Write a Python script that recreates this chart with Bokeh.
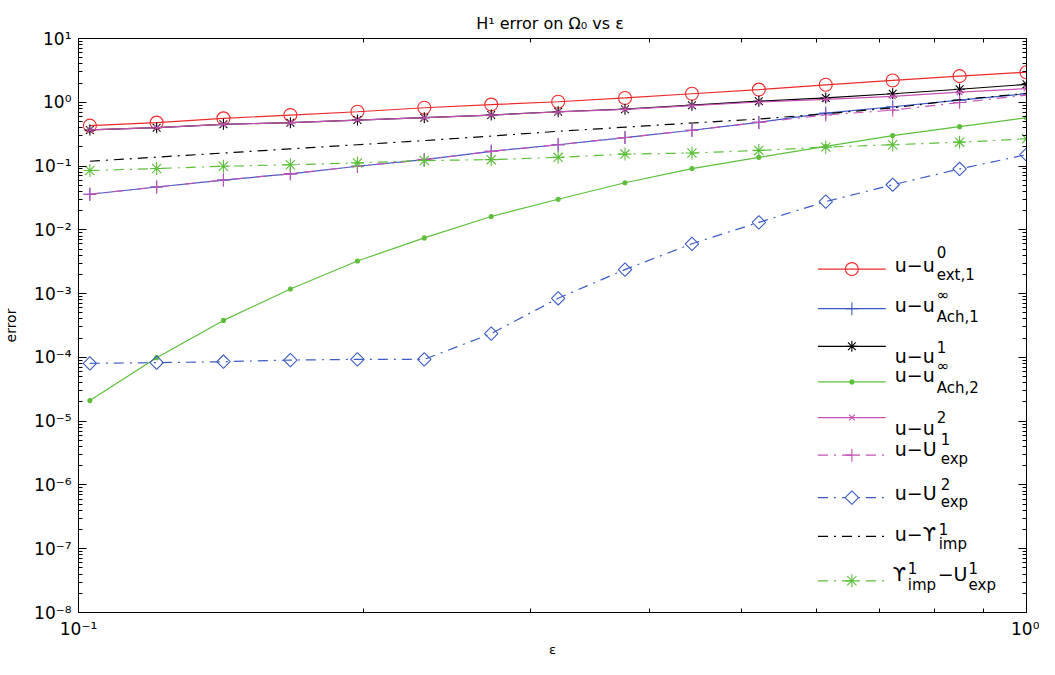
import numpy as np
from bokeh.plotting import figure
from bokeh.models import FixedTicker, LogAxis, Label, CustomJSTickFormatter, Range1d
from bokeh.embed import file_html
from bokeh.resources import INLINE

# ---------------- data ----------------
eps = [0.1028, 0.1209, 0.1422, 0.1673, 0.1969, 0.2316, 0.2725, 0.3206,
       0.3771, 0.4437, 0.5220, 0.6141, 0.7225, 0.8500, 1.0000]

err_u_ext1 = [0.43, 0.48, 0.56, 0.63, 0.71, 0.82, 0.92, 1.02, 1.17, 1.36, 1.58, 1.88, 2.20, 2.57, 2.96]
err_u_ach1 = [0.0361, 0.0469, 0.0603, 0.0755, 0.0993, 0.126, 0.170, 0.216, 0.280, 0.364, 0.484, 0.676, 0.851, 1.08, 1.36]
err_u_1 = [0.368, 0.400, 0.451, 0.479, 0.526, 0.573, 0.631, 0.710, 0.780, 0.900, 1.04, 1.17, 1.36, 1.60, 1.91]
err_u_ach2 = [2.10e-5, 9.9e-5, 3.80e-4, 1.18e-3, 3.24e-3, 7.48e-3, 1.62e-2, 3.02e-2, 5.47e-2, 9.14e-2, 0.137, 0.203, 0.301, 0.415, 0.573]
err_u_2 = [0.368, 0.400, 0.451, 0.479, 0.526, 0.573, 0.631, 0.705, 0.775, 0.885, 1.01, 1.11, 1.24, 1.44, 1.64]
err_U_exp1 = [0.0361, 0.0469, 0.0603, 0.0755, 0.0993, 0.126, 0.170, 0.216, 0.280, 0.364, 0.484, 0.631, 0.753, 0.991, 1.29]
err_U_exp2 = [8.07e-5, 8.26e-5, 8.55e-5, 9.08e-5, 9.31e-5, 9.31e-5, 2.36e-4, 8.45e-4, 2.38e-3, 6.04e-3, 1.31e-2, 2.77e-2, 5.09e-2, 9.0e-2, 0.151]
err_Y_imp1 = [0.119, 0.138, 0.160, 0.186, 0.216, 0.251, 0.295, 0.351, 0.407, 0.473, 0.546, 0.661, 0.818, 1.096, 1.38]
err_Y_U_exp = [0.0851, 0.0914, 0.0993, 0.105, 0.112, 0.122, 0.126, 0.137, 0.154, 0.160, 0.176, 0.198, 0.216, 0.237, 0.267]

x_major = [0.1, 1.0]
x_minor = [0.2, 0.3, 0.4, 0.5, 0.6, 0.7, 0.8, 0.9]
y_exponents = list(range(-8, 2))

title_text = "H¹ error on  Ω₀ vs ε"
x_label = "ε"
y_label = "error"

RED, BLUE, BLACK, GREEN, PINK = "#ee2a2a", "#3a5bc4", "#000000", "#5cbf3a", "#c452b4"
DASHDOT = "10 6 2 6"
FONT = "DejaVu Sans"

# (values, color, dash, marker, size, filled)
series = [
    (err_u_ext1, RED, "solid", "circle", 13, False),
    (err_u_ach1, BLUE, "solid", "cross", 13, False),
    (err_u_1, BLACK, "solid", "asterisk", 11, False),
    (err_u_ach2, GREEN, "solid", "circle", 4, True),
    (err_u_2, PINK, "solid", "x", 8, False),
    (err_U_exp1, PINK, DASHDOT, "cross", 13, False),
    (err_U_exp2, BLUE, DASHDOT, "diamond_sq", 9.5, False),
    (err_Y_imp1, BLACK, DASHDOT, None, 0, False),
    (err_Y_U_exp, GREEN, DASHDOT, "asterisk", 13, False),
]

# ---------------- figure ----------------
p = figure(width=1039, height=659, x_axis_type="log", y_axis_type="log",
           x_range=Range1d(0.1, 1.0), y_range=Range1d(1e-8, 10.0),
           output_backend="svg", toolbar_location=None,
           min_border_left=76, min_border_right=13, min_border_top=38, min_border_bottom=41,
           title=title_text)
p.xgrid.visible = False
p.ygrid.visible = False
p.outline_line_color = "black"
p.outline_line_width = 1
p.background_fill_color = "white"
p.border_fill_color = "white"

p.title.align = "center"
p.title.text_font = FONT
p.title.text_font_size = "16px"
p.title.text_font_style = "normal"
p.title.text_color = "black"
p.title.standoff = 12

fmt = CustomJSTickFormatter(code="""
const e = Math.round(Math.log10(tick));
const m = {"-":"\u207b","0":"\u2070","1":"\u00b9","2":"\u00b2","3":"\u00b3","4":"\u2074",
           "5":"\u2075","6":"\u2076","7":"\u2077","8":"\u2078","9":"\u2079"};
return "10" + String(e).split("").map(c => m[c]).join("");
""")

xt = FixedTicker(ticks=x_major, minor_ticks=x_minor)
yt = FixedTicker(ticks=[10.0 ** e for e in y_exponents],
                 minor_ticks=[k * 10.0 ** e for e in y_exponents[:-1] for k in range(2, 10)])


def style_axis(ax, labels=True):
    ax.axis_line_color = "black"
    ax.axis_line_width = 1
    ax.major_tick_in = 8
    ax.major_tick_out = 0
    ax.minor_tick_in = 4
    ax.minor_tick_out = 0
    ax.major_tick_line_color = "black"
    ax.minor_tick_line_color = "black"
    if labels:
        ax.major_label_text_font = FONT
        ax.major_label_text_font_size = "17px"
        ax.major_label_text_color = "black"
        ax.axis_label_text_font = FONT
        ax.axis_label_text_font_size = "14px"
        ax.axis_label_text_font_style = "normal"
        ax.axis_label_text_color = "black"
    else:
        ax.major_label_text_font_size = "1px"
        ax.major_label_text_color = None
        ax.major_label_standoff = 0


xa = p.xaxis[0]
xa.ticker = xt
xa.formatter = fmt
xa.axis_label = x_label
style_axis(xa)
xa.axis_label_text_font_size = "13px"
xa.major_label_standoff = 6
xa.axis_label_standoff = 0

ya = p.yaxis[0]
ya.ticker = yt
ya.formatter = fmt
ya.axis_label = y_label
style_axis(ya)
ya.major_label_standoff = 7
ya.axis_label_standoff = 12

top_ax = LogAxis(ticker=xt, formatter=fmt)
style_axis(top_ax, labels=False)
p.add_layout(top_ax, "above")
right_ax = LogAxis(ticker=yt, formatter=fmt)
style_axis(right_ax, labels=False)
p.add_layout(right_ax, "right")

# ---------------- data lines ----------------
for vals, col, dash, mk, sz, filled in series:
    p.line(eps, vals, line_color=col, line_width=1.2, line_dash=dash)
    if mk:
        if mk == "diamond_sq":
            p.scatter(eps, vals, marker="square", angle=np.pi / 4, size=sz,
                      line_color=col, fill_color=None, line_width=1.1)
        else:
            p.scatter(eps, vals, marker=mk, size=sz, line_color=col,
                      fill_color=col if filled else None, line_width=1.1)

# ---------------- positions helper (page pixels of the frame) ----------------
FX0, FX1, FY0, FY1 = 84, 1034, 46, 626


def dx(px):
    return 10 ** (-1 + (px - FX0) / (FX1 - FX0))


def dy(py):
    return 10 ** (1 - 9 * (py - FY0) / (FY1 - FY0))


# ---------------- legend (drawn by hand, to allow sub/superscripts) ----------------
legend_rows = [
    # line y, series index, pieces (text, x, baseline y, size)
    (279, 0, [("u−u", 902, 275, 19), ("0", 944, 262, 15), ("ext,1", 944, 285, 15)]),
    (319, 1, [("u−u", 902, 315, 19), ("∞", 944, 305, 15), ("Ach,1", 944, 327, 15)]),
    (357, 2, [("u−u", 902, 367, 19), ("1", 944, 358, 15)]),
    (393, 3, [("u−u", 902, 386, 19), ("∞", 944, 377, 15), ("Ach,2", 944, 399, 15)]),
    (429, 4, [("u−u", 902, 440, 19), ("2", 944, 428, 15)]),
    (467, 5, [("u−U", 902, 461, 19), ("1", 948, 451, 15), ("exp", 948, 471, 15)]),
    (510, 6, [("u−U", 902, 505, 19), ("2", 948, 496, 15), ("exp", 948, 514, 15)]),
    (549, 7, [("u−ϒ", 902, 547, 19), ("1", 946, 542, 15), ("imp", 946, 557, 15)]),
    (594, 8, [("ϒ", 900, 587, 19), ("1", 915, 581, 15), ("imp", 915, 598, 15),
              ("−U", 945, 587, 19), ("1", 976, 581, 15), ("exp", 976, 598, 15)]),
]

for ly, si, pieces in legend_rows:
    vals, col, dash, mk, sz, filled = series[si]
    p.line([dx(825), dx(893)], [dy(ly), dy(ly)], line_color=col, line_width=1.2, line_dash=dash)
    if mk:
        if mk == "diamond_sq":
            p.scatter([dx(859)], [dy(ly)], marker="square", angle=np.pi / 4, size=sz,
                      line_color=col, fill_color="white", line_width=1.1)
        else:
            p.scatter([dx(859)], [dy(ly)], marker=mk, size=sz, line_color=col,
                      fill_color=col if filled else None, line_width=1.1)
    for txt, tx, ty, ts in pieces:
        p.add_layout(Label(x=dx(tx), y=dy(ty), text=txt, text_font=FONT,
                           text_font_size=f"{ts}px", text_baseline="alphabetic",
                           text_align="left", text_color="black"))

open("out.html", "w").write(file_html(p, INLINE))
